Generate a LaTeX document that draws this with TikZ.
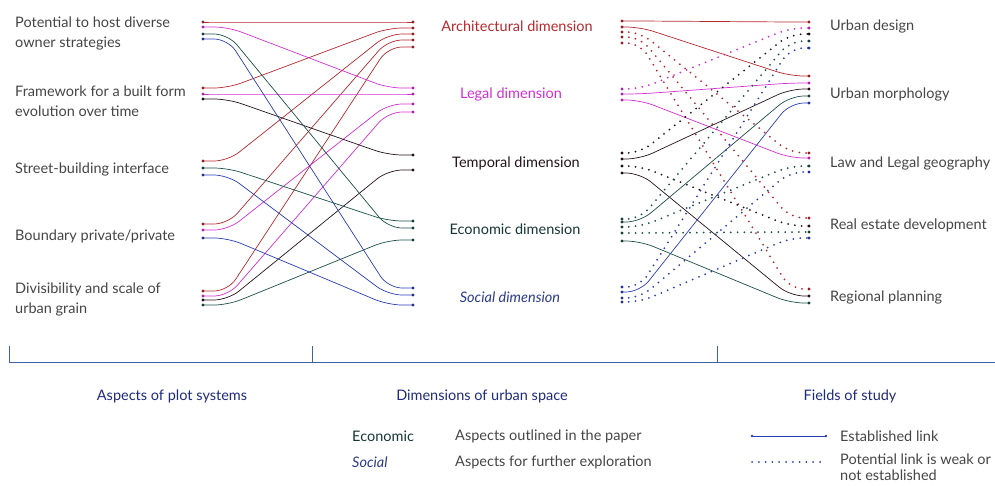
\documentclass[tikz,border=0pt]{standalone}
\usepackage{fontspec}
\setmainfont{Lato}
\usetikzlibrary{positioning}
\definecolor{archred}{HTML}{B5282E}
\definecolor{legalmag}{HTML}{D22FD2}
\definecolor{tempblack}{HTML}{24121A}
\definecolor{econteal}{HTML}{1C4E46}
\definecolor{econtext}{HTML}{173434}
\definecolor{socblue}{HTML}{2A3DB4}
\definecolor{soctext}{HTML}{2B3A8C}
\definecolor{axisblue}{HTML}{4060A8}
\definecolor{headblue}{HTML}{1E2A7C}
\definecolor{labelgray}{HTML}{454545}
\tikzset{
    every node/.style={font=\fontsize{14.5}{20}\selectfont,inner sep=0pt},
    aspect/.style={anchor=west,align=left,text=labelgray},
    dimension/.style={anchor=center},
    field/.style={anchor=west,text=labelgray},
    heading/.style={text=headblue},
    italic/.style={font=\fontsize{14.5}{20}\selectfont\itshape},
    link/.style={rounded corners=14pt,line width=0.7pt},
    weak/.style={rounded corners=14pt,line width=2pt,line cap=round,dash pattern=on 0pt off 6.8pt},
    axis/.style={draw=axisblue,line width=0.7pt}
}
\begin{document}
\begin{tikzpicture}[x=1pt,y=-1pt]
\useasboundingbox (0,0) rectangle (995,485);

% aspects of plot systems
\node[aspect] (potential) at (15,33) {Potential to host diverse\\owner strategies};
\node[aspect] (framework) at (15,101) {Framework for a built form\\evolution over time};
\node[aspect] (street) at (15,169) {Street-building interface};
\node[aspect] (boundary) at (15,236) {Boundary private/private};
\node[aspect] (divisible) at (15,299) {Divisibility and scale of\\urban grain};

% dimensions of urban space
\node[dimension,text=archred] (arch) at (517,26) {Architectural dimension};
\node[dimension,text=legalmag] (legal) at (511,94) {Legal dimension};
\node[dimension,text=tempblack] (temporal) at (516,163) {Temporal dimension};
\node[dimension,text=econtext] (econ) at (515,229) {Economic dimension};
\node[dimension,text=soctext,italic] (social) at (510,297) {Social dimension};

% fields of study
\node[field] (design) at (830,26) {Urban design};
\node[field] (morph) at (830,94) {Urban morphology};
\node[field] (law) at (830,163) {Law and Legal geography};
\node[field] (estate) at (830,225) {Real estate development};
\node[field] (region) at (830,297) {Regional planning};

% aspects -> dimensions
\foreach \ya/\yb/\c in {22/22/archred, 88/28/archred, 161/34/archred, 224/40/archred, 291/47/archred,
    27/88/legalmag, 94/94/legalmag, 230/104/legalmag, 296/112/legalmag,
    99/155/tempblack, 300/170/tempblack,
    34/228/econteal, 168/221/econteal, 305/240/econteal,
    39/288/socblue, 175/295/socblue, 238/305/socblue}{
  \coordinate (a\ya) at (203,\ya);
  \coordinate (d\yb) at (413,\yb);
  \draw[link,\c] (a\ya) -- ++(25,0) -- ([xshift=-25pt]d\yb) -- (d\yb);
  \fill[\c!80!black] (a\ya) circle (1.6pt) (d\yb) circle (1.6pt);
}

% dimensions -> fields
\foreach \ya/\yb/\c/\s in {21/22/archred/link, 27/76/archred/link, 32/153/archred/weak, 37/218/archred/weak, 43/289/archred/weak,
    89/28/legalmag/weak, 94/83/legalmag/link, 100/158/legalmag/link,
    153/34/tempblack/weak, 159/89/tempblack/link, 166/226/tempblack/weak, 173/296/tempblack/link,
    219/41/econteal/weak, 222/96/econteal/link, 227/166/econteal/weak, 233/232/econteal/weak, 241/303/econteal/link,
    287/48/socblue/weak, 292/103/socblue/link, 298/172/socblue/weak, 302/238/socblue/weak}{
  \coordinate (e\ya) at (622,\ya);
  \coordinate (f\yb) at (809,\yb);
  \draw[\s,\c] (e\ya) -- ++(18,0) -- ([xshift=-19pt]f\yb) -- (f\yb);
  \fill[\c!80!black] (e\ya) circle (1.6pt) (f\yb) circle (1.6pt);
}

% axis
\draw[axis] (9,346) -- (9,362) -- (995,362);
\draw[axis] (312,346) -- (312,362);
\draw[axis] (717,346) -- (717,362);

\node[heading] (plothead) at (172,396) {Aspects of plot systems};
\node[heading] (dimhead) at (482,396) {Dimensions of urban space};
\node[heading] (fieldhead) at (850,396) {Fields of study};

% legend
\node[anchor=west,text=econtext] (keyecon) at (352,436) {Economic};
\node[anchor=west,text=soctext,italic] (keysoc) at (352,462) {Social};
\node[anchor=west,text=labelgray] (outlined) at (455,436) {Aspects outlined in the paper};
\node[anchor=west,text=labelgray] (further) at (455,462) {Aspects for further exploration};

\coordinate (estA) at (752,436);
\coordinate (estB) at (826,436);
\draw[link,socblue] (estA) -- (estB);
\fill[socblue] (estA) circle (1.4pt) (estB) circle (1.4pt);
\coordinate (weakA) at (752,462);
\coordinate (weakB) at (826,462);
\draw[weak,socblue] (weakA) -- (weakB);
\node[anchor=west,text=labelgray] (estlabel) at (840,436) {Established link};
\node[anchor=west,align=left,text=labelgray,font=\fontsize{14.5}{16}\selectfont] (weaklabel) at (840,467) {Potential link is weak or\\not\ established};
\end{tikzpicture}
\end{document}
